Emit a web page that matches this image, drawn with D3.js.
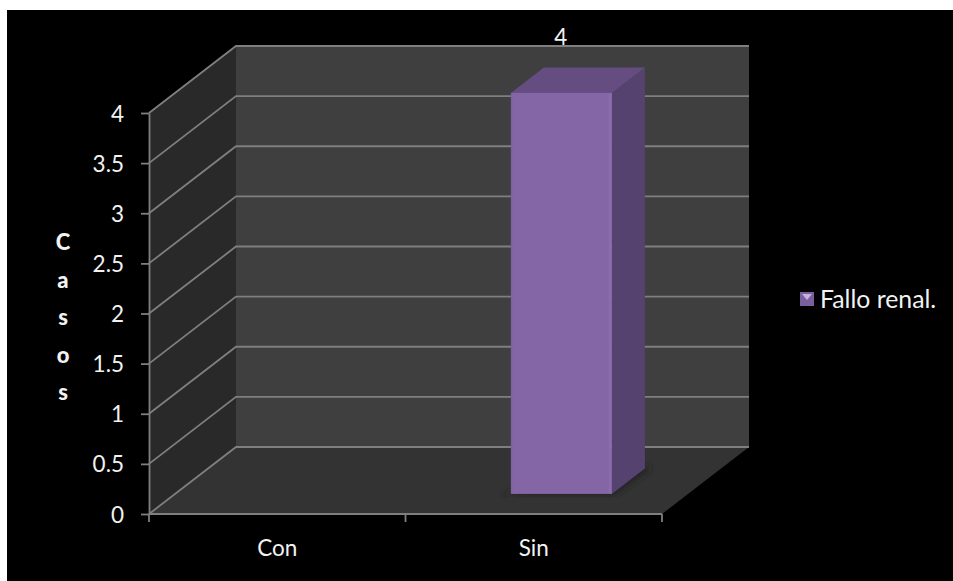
<!DOCTYPE html>
<html>
<head>
<meta charset="utf-8">
<script src="https://cdn.jsdelivr.net/npm/d3@7"></script>
<style>
html,body{margin:0;padding:0;background:#fff;overflow:hidden;}
svg{display:block;}
</style>
</head>
<body>
<svg id="chart" width="953" height="581"></svg>
<script>
// Chart content
const categories = ["Con", "Sin"];
const seriesName = "Fallo renal.";
const seriesValues = [0, 4];
const valueTicks = [0, 0.5, 1, 1.5, 2, 2.5, 3, 3.5, 4];
const axisTitle = ["C", "a", "s", "o", "s"];

const svg = d3.select("#chart");
const font = "Lato, 'Open Sans', sans-serif";
const labelSize = "22.5px";
const labelColor = "#f2f2f2";

// Frame of the 3D box: front plane plus the offset of the back wall
const plot = {x0: 149, x1: 662, y0: 514, y1: 113};
const depth = {dx: 87, dy: -67};
const barDepth = {start: 0.3, end: 0.68};

const y = d3.scaleLinear().domain([0, 4]).range([plot.y0, plot.y1]);
const x = d3.scaleBand().domain(categories).range([plot.x0, plot.x1]);
const at = (px, py, f) => [px + depth.dx * f, py + depth.dy * f];
const poly = pts => "M" + pts.map(p => p.join(",")).join("L") + "Z";

// Black chart area, bleeding off the right and bottom edges
svg.append("rect").attr("x", 7).attr("y", 10).attr("width", 946).attr("height", 571).attr("fill", "#000");

// Box walls
const gridColor = "#7f7f7f";
svg.append("path")
  .attr("d", poly([at(plot.x0, plot.y0, 0), at(plot.x0, plot.y1, 0), at(plot.x0, plot.y1, 1), at(plot.x0, plot.y0, 1)]))
  .attr("fill", "#292929");
svg.append("path")
  .attr("d", poly([at(plot.x0, plot.y0, 1), at(plot.x0, plot.y1, 1), at(plot.x1, plot.y1, 1), at(plot.x1, plot.y0, 1)]))
  .attr("fill", "#3f3f3f");
svg.append("path")
  .attr("d", poly([at(plot.x0, plot.y0, 0), at(plot.x1, plot.y0, 0), at(plot.x1, plot.y0, 1), at(plot.x0, plot.y0, 1)]))
  .attr("fill", "#333333");

// Gridlines running along the side wall and across the back wall
const grid = svg.append("g").attr("fill", "none").attr("stroke", gridColor).attr("stroke-width", 1.8);
valueTicks.forEach(t => {
  const pts = [at(plot.x0, y(t), 0), at(plot.x0, y(t), 1), at(plot.x1, y(t), 1)];
  grid.append("path").attr("d", d3.line()(pts));
});

// Value axis
const yAxis = svg.append("g").attr("transform", `translate(${plot.x0},0)`)
  .call(d3.axisLeft(y).tickValues(valueTicks).tickFormat(d3.format("~g")).tickSize(8).tickPadding(17).tickSizeOuter(0));
yAxis.selectAll("path,line").attr("stroke", gridColor).attr("stroke-width", 1.8);
yAxis.selectAll("text").attr("fill", labelColor).style("font-family", font).style("font-size", labelSize).attr("dy", "0.36em");

// Category axis
const xAxis = svg.append("g").attr("transform", `translate(0,${plot.y0})`);
xAxis.append("line").attr("x1", plot.x0).attr("x2", plot.x1).attr("stroke", gridColor).attr("stroke-width", 1.8);
const catEdges = [plot.x0, ...categories.map(c => x(c) + x.bandwidth())];
xAxis.selectAll("line.tick").data(catEdges).join("line").attr("class", "tick")
  .attr("x1", d => d).attr("x2", d => d).attr("y1", 0).attr("y2", 8)
  .attr("stroke", gridColor).attr("stroke-width", 1.8);
xAxis.selectAll("text").data(categories).join("text")
  .attr("x", d => x(d) + x.bandwidth() / 2).attr("y", 42)
  .attr("text-anchor", "middle").attr("fill", labelColor)
  .style("font-family", font).style("font-size", labelSize).text(d => d);

// Axis title, one letter per line
svg.append("g").selectAll("text").data(axisTitle).join("text")
  .attr("x", 63).attr("y", (d, i) => 250 + i * 37.5)
  .attr("text-anchor", "middle").attr("fill", labelColor)
  .style("font-family", font).style("font-size", "22px").style("font-weight", "900").text(d => d);

// Bars
const defs = svg.append("defs");
defs.append("filter").attr("id", "soft").append("feGaussianBlur").attr("stdDeviation", 3);
const bevel = defs.append("linearGradient").attr("id", "face");
[[0, "#7a5f9e"], [0.02, "#8465a6"], [0.96, "#8465a6"], [1, "#8f70b0"]].forEach(s =>
  bevel.append("stop").attr("offset", s[0]).attr("stop-color", s[1]));

const barWidth = 101;
const marks = svg.append("g");
categories.forEach((c, i) => {
  const v = seriesValues[i];
  if (!v) return;
  const cx = x(c) + x.bandwidth() / 2 + 1.5;
  const l = cx - barWidth / 2, r = cx + barWidth / 2;
  const [fl, fb] = at(l, y(0), barDepth.start);
  const [fr, ft] = at(r, y(v), barDepth.start);
  const ext = barDepth.end - barDepth.start;
  const bdx = depth.dx * ext, bdy = depth.dy * ext;
  marks.append("path")
    .attr("d", poly([[fl - 10, fb + 1], [fr + 2, fb + 1], [fr + bdx + 6, fb + bdy], [fr + bdx - 10, fb + bdy - 4]]))
    .attr("fill", "#232323").attr("filter", "url(#soft)");
  marks.append("path").attr("d", poly([[fr, ft], [fr + bdx, ft + bdy], [fr + bdx, fb + bdy], [fr, fb]])).attr("fill", "#56426f");
  marks.append("path").attr("d", poly([[fl, ft], [fl + bdx, ft + bdy], [fr + bdx, ft + bdy], [fr, ft]])).attr("fill", "#654d82");
  marks.append("rect").attr("x", fl).attr("y", ft).attr("width", fr - fl).attr("height", fb - ft).attr("fill", "url(#face)");
  // Value label above the column
  svg.append("text").attr("x", fl + 50).attr("y", 45).attr("text-anchor", "middle")
    .attr("fill", labelColor).style("font-family", font).style("font-size", labelSize).text(v);
});

// Legend
const legend = svg.append("g").attr("transform", "translate(800,292)");
legend.append("rect").attr("width", 14).attr("height", 14).attr("fill", "#7a5f9e");
legend.append("path").attr("d", "M2,2L12,2L7,8Z").attr("fill", "#c3b3da");
legend.append("text").attr("x", 20).attr("y", 15.5).attr("fill", labelColor)
  .style("font-family", font).style("font-size", "24.8px").text(seriesName);
</script>
</body>
</html>
